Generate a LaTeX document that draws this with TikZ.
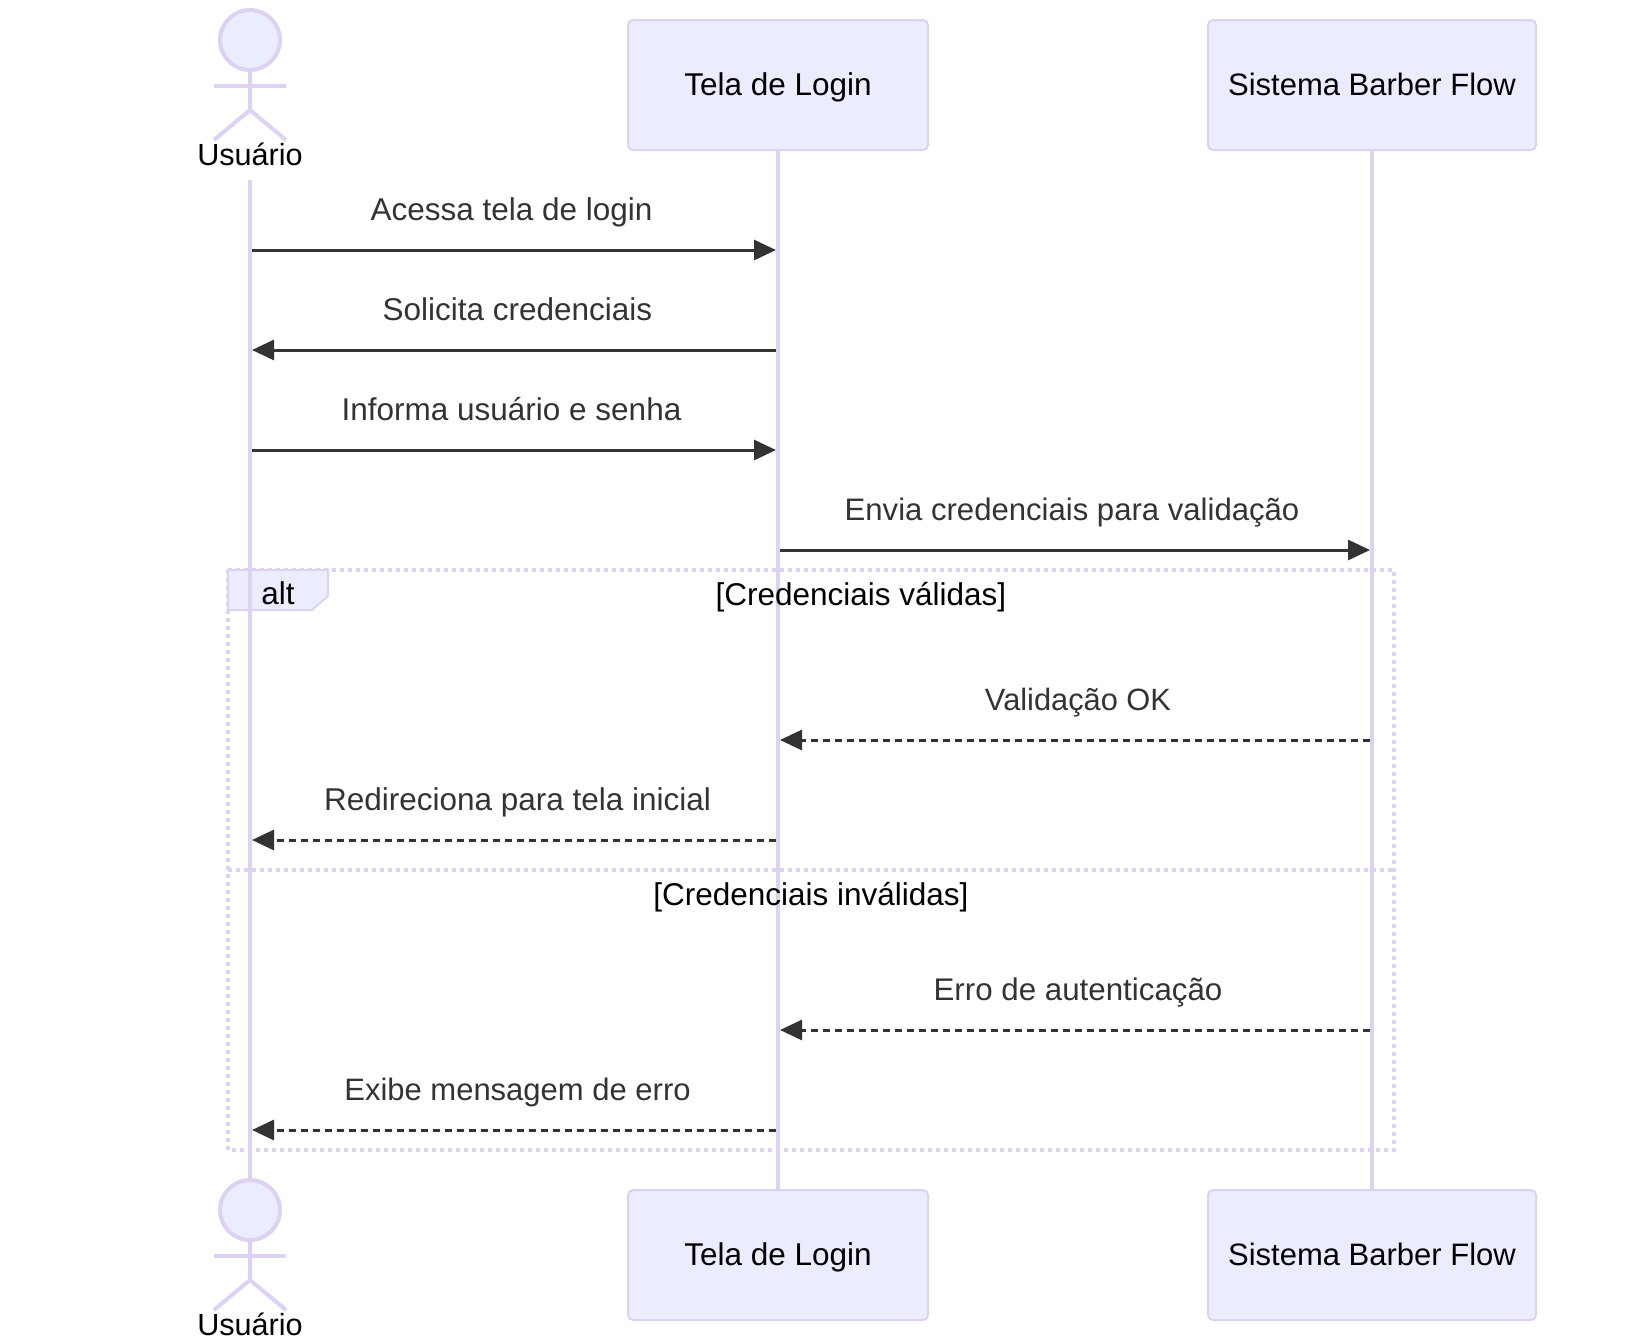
\documentclass[tikz,border=0pt]{standalone}
\usepackage{fontspec}
\setmainfont{Liberation Sans}
\usetikzlibrary{arrows.meta}
\definecolor{fillc}{HTML}{ECECFF}
\definecolor{linec}{HTML}{DDD2F3}
\definecolor{msgc}{HTML}{333333}
\newcommand{\labelfont}{\fontsize{31.5}{36}\selectfont}
\newcommand{\labelsized}[1]{\fontsize{#1}{36}\selectfont}
\tikzset{
 x=1pt,y=-1pt,
 partbox/.style={draw=linec,fill=fillc,line width=2pt,rounded corners=5pt,minimum height=130pt,inner sep=0pt,font=\labelfont,text=black,text height=26pt,text depth=5pt},
 lifeline/.style={draw=linec,line width=4pt},
 actorline/.style={draw=linec,line width=4pt,fill=fillc},
 actorlabel/.style={font=\labelsized{30.6},text=black,inner sep=0pt,anchor=base},
 msg/.style={draw=msgc,line width=3pt,-{Triangle[length=22pt,width=20pt,color=msgc]}},
 reply/.style={msg,dash pattern=on 7pt off 5pt},
 msglabel/.style={font=\labelfont,text=msgc,inner sep=0pt,anchor=base},
 framec/.style={draw=linec,line width=4pt,dash pattern=on 4pt off 4pt},
 altlabel/.style={font=\labelfont,text=black,inner sep=0pt,anchor=base},
}
\begin{document}
\begin{tikzpicture}
\useasboundingbox (0,0) rectangle (1636,1342);
\node[partbox,minimum width=300pt] (tt) at (778,85) {Tela de Login};
\node[partbox,minimum width=328pt,font=\labelsized{31}] (st) at (1372,85) {Sistema Barber Flow};
\node[partbox,minimum width=300pt] (tb) at (778,1255) {Tela de Login};
\node[partbox,minimum width=328pt,font=\labelsized{31}] (sb) at (1372,1255) {Sistema Barber Flow};
\node[actorlabel] (ut) at (250,165) {Usuário};
\node[actorlabel] (ub) at (250,1335) {Usuário};
\coordinate (us) at (250,180);
\coordinate (ue) at (250,1180);
\draw[lifeline] (us) -- (ue);
\draw[lifeline] (tt.south) -- (tb.north);
\draw[lifeline] (st.south) -- (sb.north);
\foreach \n/\d in {a/0,b/1170}{
 \draw[actorline] (250,40+\d) circle[radius=30];
 \draw[lifeline] (250,70+\d) -- (250,110+\d) -- (214,140+\d);
 \draw[lifeline] (250,110+\d) -- (286,140+\d);
 \draw[lifeline] (214,86+\d) -- (286,86+\d);
}
\foreach \n/\y in {a/250,b/350,c/450,d/550,e/740,f/840,g/1030,h/1130}{
 \coordinate (u\n) at (252,\y);
 \coordinate (tl\n) at (776,\y);
 \coordinate (tr\n) at (780,\y);
 \coordinate (s\n) at (1370,\y);
}
\draw[msg] (ua) -- (tla);
\draw[msg] (tlb) -- (ub);
\draw[msg] (uc) -- (tlc);
\draw[msg] (trd) -- (sd);
\draw[reply] (se) -- (tre);
\draw[reply] (tlf) -- (uf);
\draw[reply] (sg) -- (trg);
\draw[reply] (tlh) -- (uh);
\node[msglabel] (m1) at (511.5,220) {Acessa tela de login};
\node[msglabel] (m2) at (517.5,320) {Solicita credenciais};
\node[msglabel] (m3) at (511.5,420) {Informa usuário e senha};
\node[msglabel,font=\labelsized{31.1}] (m4) at (1072,520) {Envia credenciais para validação};
\node[msglabel,font=\labelsized{30.8}] (m5) at (1078,710) {Validação OK};
\node[msglabel] (m6) at (517.5,810) {Redireciona para tela inicial};
\node[msglabel,font=\labelsized{31.3}] (m7) at (1078,1000) {Erro de autenticação};
\node[msglabel,font=\labelsized{31}] (m8) at (517.5,1100) {Exibe mensagem de erro};
\draw[framec] (228,570) rectangle (1394,1150);
\draw[framec] (228,870) -- (1394,870);
\draw[draw=linec,fill=fillc,line width=2pt] (228,570) -- (328,570) -- (328,596) -- (312,610) -- (228,610) -- cycle;
\draw[lifeline] (250,570) -- (250,610);
\node[altlabel] (alt) at (278,604) {alt};
\node[altlabel] (c1) at (861,605) {[Credenciais válidas]};
\node[altlabel] (c2) at (811,905) {[Credenciais inválidas]};
\end{tikzpicture}
\end{document}
